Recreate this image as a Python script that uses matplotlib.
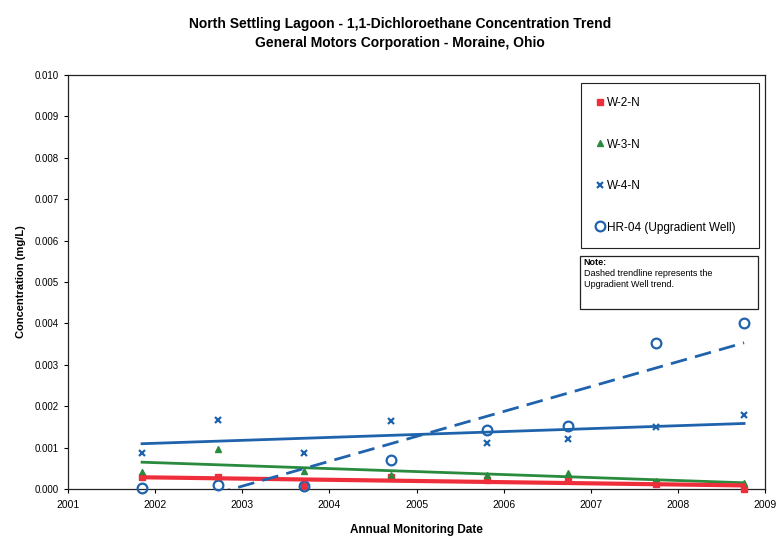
import numpy as np
import matplotlib
matplotlib.use("Agg")
import matplotlib.pyplot as plt
from matplotlib.patches import Rectangle
from matplotlib.ticker import FormatStrFormatter

plt.rcParams['font.family'] = ['Liberation Sans', 'DejaVu Sans']

# sampling dates (decimal years)
dates = [2001.85, 2002.72, 2003.71, 2004.71, 2005.81, 2006.74, 2007.75, 2008.76]

w2n = [0.00028, 0.00028, 0.00007, 0.00030, 0.00022, 0.00022, 0.00012, 0.00000]
w3n = [0.00042, 0.00096, 0.00044, 0.00034, 0.00034, 0.00039, 0.00019, 0.00014]
w4n = [0.00087, 0.00167, 0.00088, 0.00165, 0.00112, 0.00120, 0.00150, 0.00179]
hr04 = [0.00003, 0.00010, 0.00007, 0.00070, 0.00143, 0.00152, 0.00353, 0.00402]

year_ticks = list(range(2001, 2010))
conc_ticks = [i / 1000 for i in range(0, 11)]

RED = '#ee2e3a'
GREEN = '#2a8a3e'
BLUE = '#1f63ad'

fig = plt.figure(figsize=(7.77, 5.36), dpi=100)
ax = fig.add_axes([68 / 777, 1 - 489 / 536, 697 / 777, 414 / 536])

x = np.array(dates)


def trend(vals):
    # excel style linear trendline over the sampled range
    k, b = np.polyfit(x, vals, 1)
    xs = np.array([x[0], x[-1]])
    return xs, k * xs + b


ax.plot(x, w2n, 's', color=RED, ms=4.5, label='W-2-N', zorder=3, clip_on=False)
ax.plot(x, w3n, '^', color=GREEN, ms=5, label='W-3-N', zorder=3, clip_on=False)
ax.plot(x, w4n, 'x', color=BLUE, ms=5, mew=1.6, label='W-4-N', zorder=3, clip_on=False)
ax.plot(x, hr04, 'o', mfc='none', mec=BLUE, ms=7, mew=1.6,
        label='HR-04 (Upgradient Well)', zorder=3, clip_on=False)

xs, ys = trend(w4n)
ax.plot(xs, ys, '-', color=BLUE, lw=2, zorder=4)
xs, ys = trend(w3n)
ax.plot(xs, ys, '-', color=GREEN, lw=2, zorder=4)
xs, ys = trend(w2n)
ax.plot(xs, ys, '-', color=RED, lw=3, zorder=4)
xs, ys = trend(hr04)
ax.plot(xs, ys, '--', color=BLUE, lw=2, dashes=(6, 3), zorder=4)

ax.set_xlim(2001, 2009)
ax.set_ylim(0, 0.010)
ax.set_xticks(year_ticks)
ax.set_yticks(conc_ticks)
ax.yaxis.set_major_formatter(FormatStrFormatter('%.3f'))
ax.tick_params(labelsize=7.5, length=3, width=0.8, direction='out')
ax.tick_params(axis='x', pad=5)
ax.tick_params(axis='y', labelsize=7)
for sp in ax.spines.values():
    sp.set_linewidth(0.9)
    sp.set_color('#222222')

ax.set_xlabel('Annual Monitoring Date', fontsize=8.5, fontweight='bold', labelpad=10)
ax.set_ylabel('Concentration (mg/L)', fontsize=8, fontweight='bold', labelpad=6)

fig.text(400 / 777, 1 - 24 / 536,
         'North Settling Lagoon - 1,1-Dichloroethane Concentration Trend',
         ha='center', va='center', fontsize=10, fontweight='bold')
fig.text(400 / 777, 1 - 43 / 536, 'General Motors Corporation - Moraine, Ohio',
         ha='center', va='center', fontsize=10, fontweight='bold')

leg = ax.legend(loc='upper left', bbox_to_anchor=(0.736, 0.981, 0.255, 0.0),
                mode='expand', borderaxespad=0, fontsize=8.5, labelspacing=2.5,
                handlelength=0.8, handletextpad=0.2, borderpad=1.2,
                fancybox=False, edgecolor='#222222', framealpha=1)
leg.get_frame().set_linewidth(0.8)

ax.add_patch(Rectangle((0.735, 0.435), 0.255, 0.128, transform=ax.transAxes,
                       facecolor='white', edgecolor='#222222', lw=0.9, zorder=5))
ax.text(0.740, 0.548, 'Note:', transform=ax.transAxes, fontsize=6.5,
        fontweight='bold', va='center', zorder=6)
ax.text(0.740, 0.521, 'Dashed trendline represents the', transform=ax.transAxes,
        fontsize=6.5, va='center', zorder=6)
ax.text(0.740, 0.494, 'Upgradient Well trend.', transform=ax.transAxes,
        fontsize=6.5, va='center', zorder=6)

fig.savefig('out.png', dpi=100)
